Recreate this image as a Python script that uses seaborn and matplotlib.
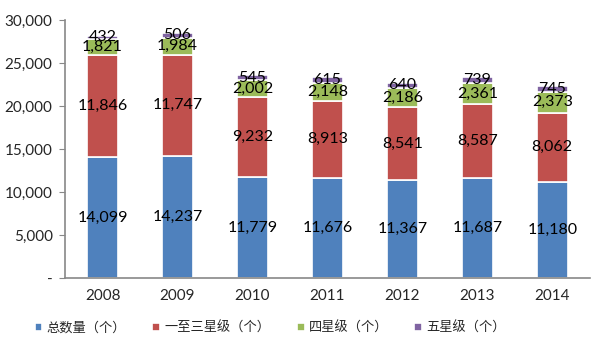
import numpy as np
import pandas as pd
import matplotlib
matplotlib.use('Agg')
import matplotlib.pyplot as plt
import seaborn as sns

# 数据
years = ['2008', '2009', '2010', '2011', '2012', '2013', '2014']
total = [14099, 14237, 11779, 11676, 11367, 11687, 11180]
one_to_three = [11846, 11747, 9232, 8913, 8541, 8587, 8062]
four_star = [1821, 1984, 2002, 2148, 2186, 2361, 2373]
five_star = [432, 506, 545, 615, 640, 739, 745]

series_names = ['总数量（个）', '一至三星级（个）', '四星级（个）', '五星级（个）']
colors = ['#4F81BD', '#C0504D', '#9BBB59', '#8064A2']

sns.set_style('white')
plt.rcParams['font.family'] = ['Lato', 'Noto Sans CJK SC', 'DejaVu Sans']

fig = plt.figure(figsize=(6.03, 3.52), dpi=100)
ax = fig.add_axes([0.108, 0.21, 0.87, 0.733])

bottom = np.zeros(len(years))
for name, vals, c in zip(series_names, [total, one_to_three, four_star, five_star], colors):
    df = pd.DataFrame({'year': years, 'value': vals})
    sns.barplot(data=df, x='year', y='value', color=c, bottom=bottom, width=0.41,
                edgecolor='white', linewidth=1.2, label=name, ax=ax, saturation=1)
    cont = ax.containers[-1]
    ax.bar_label(cont, labels=[f'{v:,}' for v in vals], label_type='center',
                 fontsize=11.5, color='black')
    bottom = bottom + np.array(vals)

handles, labels = ax.get_legend_handles_labels()
if ax.legend_ is not None:
    ax.legend_.remove()

ax.set_ylim(0, 30000)
ax.set_xlim(-0.5, 6.5)
ax.set_yticks(np.arange(0, 30001, 5000))
ax.set_yticklabels(['-'] + [f'{v:,}' for v in range(5000, 30001, 5000)], fontsize=11)
ax.set_xticks(range(len(years)))
ax.set_xticklabels(years, fontsize=11)
ax.set_xticks(np.arange(-0.5, 7, 1), minor=True)
ax.tick_params(axis='x', which='major', length=0, pad=8)
ax.tick_params(axis='x', which='minor', length=4, color='#888888', direction='out')
ax.tick_params(axis='y', length=4, color='#888888', direction='out', left=True, pad=5)
ax.set_xlabel('')
ax.set_ylabel('')
for s in ['top', 'right']:
    ax.spines[s].set_visible(False)
for s in ['left', 'bottom']:
    ax.spines[s].set_color('#888888')
    ax.spines[s].set_linewidth(1.2)

fig.legend(handles, labels, loc='center', bbox_to_anchor=(0.448, 0.07), ncol=4,
           frameon=False, fontsize=9.5, handlelength=0.6, handleheight=0.6,
           handletextpad=0.3, columnspacing=2.0)

fig.savefig('out.png', dpi=100)
